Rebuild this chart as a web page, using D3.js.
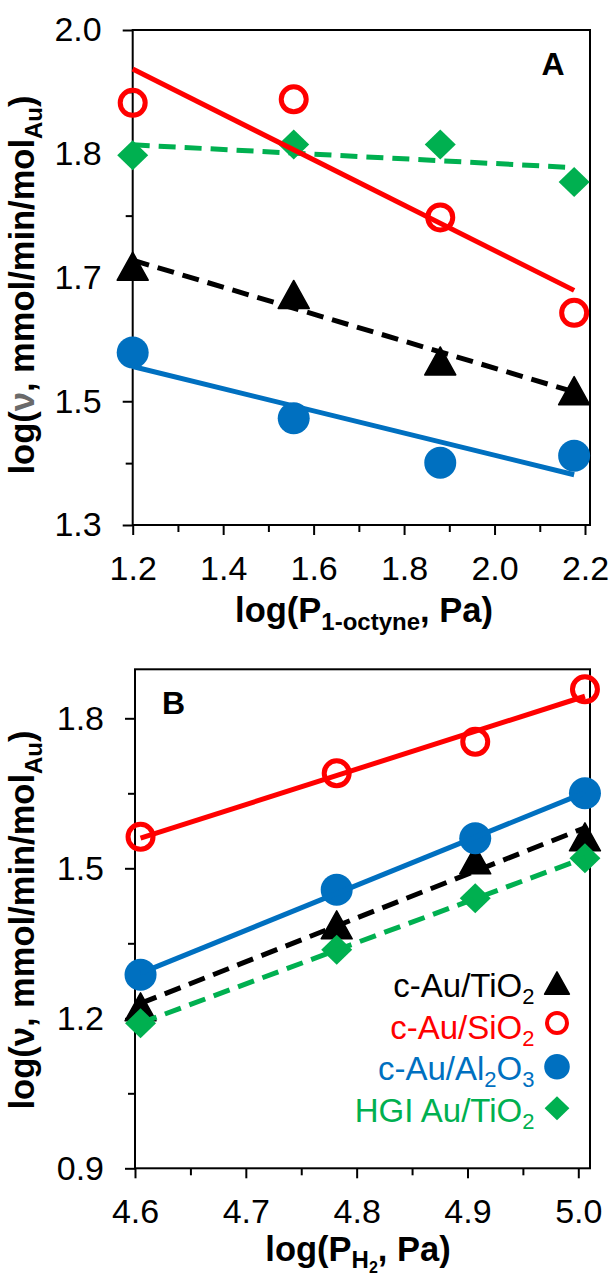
<!DOCTYPE html>
<html><head><meta charset="utf-8">
<script src="https://cdn.jsdelivr.net/npm/d3@7"></script>
<style>body{margin:0;background:#fff}svg{display:block}text{font-family:"Liberation Sans",Arial,sans-serif}</style>
</head><body><div id="chart"></div>
<script>
// ---------- Data ----------
const seriesNames = ["c-Au/TiO2", "c-Au/SiO2", "c-Au/Al2O3", "HGI Au/TiO2"];
// Panel A: log(P 1-octyne, Pa)
const xA = [1.20, 1.556, 1.880, 2.176];
const aTiO2  = [1.666, 1.626, 1.532, 1.490];
const aSiO2  = [1.897, 1.902, 1.735, 1.600];
const aAl2O3 = [1.544, 1.451, 1.388, 1.398];
const aHGI   = [1.823, 1.838, 1.838, 1.785];
// Panel B: log(P H2, Pa)
const xB = [4.605, 4.782, 4.907, 5.006];
const bTiO2  = [1.223, 1.387, 1.517, 1.563];
const bSiO2  = [1.563, 1.690, 1.753, 1.858];
const bAl2O3 = [1.287, 1.457, 1.560, 1.650];
const bHGI   = [1.190, 1.337, 1.440, 1.520];
// Ticks
const xTicksA = [1.2, 1.4, 1.6, 1.8, 2.0, 2.2];
const xTickLabelsA = ["1.2", "1.4", "1.6", "1.8", "2.0", "2.2"];
const xMinorA = [1.3, 1.5, 1.7, 1.9, 2.1];
const yTicksA = [1.3, 1.475, 1.65, 1.825, 2.0];
const yTickLabelsA = ["1.3", "1.5", "1.7", "1.8", "2.0"];
const yMinorA = [1.3875, 1.5625, 1.7375, 1.9125];
const xTicksB = [4.6, 4.7, 4.8, 4.9, 5.0];
const xTickLabelsB = ["4.6", "4.7", "4.8", "4.9", "5.0"];
const xMinorB = [4.65, 4.75, 4.85, 4.95];
const yTicksB = [0.9, 1.2, 1.5, 1.8];
const yTickLabelsB = ["0.9", "1.2", "1.5", "1.8"];
const yMinorB = [1.05, 1.35, 1.65];

// ---------- Styles ----------
const styles = [
  {color: "#000000", dash: "17,9", marker: "triangle"},
  {color: "#FF0000", dash: null,   marker: "ring"},
  {color: "#0070C0", dash: null,   marker: "dot"},
  {color: "#00B050", dash: "17,9", marker: "diamond"}
];
const legendParts = [
  [{t: "c-Au/TiO"}, {t: "2", sub: true}],
  [{t: "c-Au/SiO"}, {t: "2", sub: true}],
  [{t: "c-Au/Al"}, {t: "2", sub: true}, {t: "O"}, {t: "3", sub: true}],
  [{t: "HGI Au/TiO"}, {t: "2", sub: true}]
];

const W = 612, H = 1281;
const TICK_FS = 34, TITLE_FS = 34.5, LEG_FS = 33;
const svg = d3.select("#chart").append("svg").attr("width", W).attr("height", H);
svg.append("rect").attr("width", W).attr("height", H).attr("fill", "#fff");

function addParts(textSel, parts) {
  let cur = 0;
  parts.forEach(p => {
    const off = p.off || 0;
    const ts = textSel.append("tspan").attr("dy", off - cur).text(p.t);
    if (p.fs) ts.attr("font-size", p.fs);
    if (p.fill) ts.attr("fill", p.fill);
    cur = off;
  });
}

function drawMarker(g, type, cx, cy, color, k) {
  if (type === "ring") {
    g.append("circle").attr("cx", cx).attr("cy", cy).attr("r", 12.5 * k)
      .attr("fill", "none").attr("stroke", color).attr("stroke-width", 5 * k);
  } else if (type === "dot") {
    g.append("circle").attr("cx", cx).attr("cy", cy).attr("r", 16 * k).attr("fill", color);
  } else if (type === "triangle") {
    const w = 31 * k, h = 28 * k;
    g.append("path").attr("d", `M${cx},${cy - h / 2}L${cx + w / 2},${cy + h / 2}L${cx - w / 2},${cy + h / 2}Z`)
      .attr("fill", color).attr("stroke", color).attr("stroke-width", 1.5).attr("stroke-linejoin", "round");
  } else if (type === "diamond") {
    const w = 31 * k, h = 30 * k;
    g.append("path").attr("d", `M${cx},${cy - h / 2}L${cx + w / 2},${cy}L${cx},${cy + h / 2}L${cx - w / 2},${cy}Z`)
      .attr("fill", color);
  }
}

function linreg(xs, ys) {
  const n = xs.length, mx = d3.mean(xs), my = d3.mean(ys);
  let sxy = 0, sxx = 0;
  for (let i = 0; i < n; i++) { sxy += (xs[i] - mx) * (ys[i] - my); sxx += (xs[i] - mx) ** 2; }
  const m = sxy / sxx;
  return x => my + m * (x - mx);
}

function drawPanel(cfg) {
  const g = svg.append("g");
  const x = d3.scaleLinear().domain(cfg.xDomain).range(cfg.xRange);
  const y = d3.scaleLinear().domain(cfg.yDomain).range(cfg.yRange);
  const f = cfg.frame;

  const xAxis = g.append("g").attr("transform", `translate(0,${f.b})`)
    .call(d3.axisBottom(x).tickValues(cfg.xTicks).tickFormat((d, i) => cfg.xLabels[i]).tickSize(10).tickPadding(21).tickSizeOuter(0));
  const xMin = g.append("g").attr("transform", `translate(0,${f.b})`)
    .call(d3.axisBottom(x).tickValues(cfg.xMinor).tickFormat("").tickSize(7).tickSizeOuter(0));
  const yAxis = g.append("g").attr("transform", `translate(${f.l},0)`)
    .call(d3.axisLeft(y).tickValues(cfg.yTicks).tickFormat((d, i) => cfg.yLabels[i]).tickSize(10).tickPadding(21).tickSizeOuter(0));
  const yMin = g.append("g").attr("transform", `translate(${f.l},0)`)
    .call(d3.axisLeft(y).tickValues(cfg.yMinor).tickFormat("").tickSize(7).tickSizeOuter(0));
  [xAxis, xMin, yAxis, yMin].forEach(a => {
    a.select(".domain").remove();
    a.selectAll(".tick line").attr("stroke", "#000").attr("stroke-width", 2);
    a.selectAll(".tick text").attr("font-size", TICK_FS).attr("fill", "#000")
      .attr("font-family", '"Liberation Sans", Arial, sans-serif');
  });

  g.append("rect").attr("x", f.l).attr("y", f.t).attr("width", f.r - f.l).attr("height", f.b - f.t)
    .attr("fill", "none").attr("stroke", "#000").attr("stroke-width", 2);

  const mg = g.append("g");
  cfg.ys.forEach((ys, si) => {
    ys.forEach((v, i) => drawMarker(mg, styles[si].marker, x(cfg.x[i]), y(v), styles[si].color, 1));
  });

  const lg = g.append("g");
  [3, 0, 2, 1].forEach(si => {
    const fit = linreg(cfg.x, cfg.ys[si]);
    const x0 = cfg.x[0], x1 = cfg.x[cfg.x.length - 1];
    const ln = lg.append("line").attr("x1", x(x0)).attr("y1", y(fit(x0))).attr("x2", x(x1)).attr("y2", y(fit(x1)))
      .attr("stroke", styles[si].color).attr("stroke-width", 5);
    if (styles[si].dash) ln.attr("stroke-dasharray", styles[si].dash);
  });

  g.append("text").attr("x", cfg.letter[1]).attr("y", cfg.letter[2]).attr("text-anchor", "middle")
    .attr("font-size", 32).attr("font-weight", "bold").text(cfg.letter[0]);

  const xt = g.append("text").attr("x", cfg.xTitlePos[0]).attr("y", cfg.xTitlePos[1])
    .attr("text-anchor", "middle").attr("font-size", TITLE_FS).attr("font-weight", "bold");
  addParts(xt, cfg.xTitle);

  const yt = g.append("text").attr("transform", `translate(${cfg.yTitlePos[0]},${cfg.yTitlePos[1]}) rotate(-90)`)
    .attr("text-anchor", "middle").attr("font-size", TITLE_FS).attr("font-weight", "bold");
  addParts(yt, cfg.yTitle);
}

drawPanel({
  x: xA, ys: [aTiO2, aSiO2, aAl2O3, aHGI],
  xDomain: [1.2, 2.2], xRange: [132.7, 585], yDomain: [1.3, 2.0], yRange: [525, 30],
  frame: {l: 132.7, r: 590, t: 30, b: 525},
  xTicks: xTicksA, xLabels: xTickLabelsA, xMinor: xMinorA,
  yTicks: yTicksA, yLabels: yTickLabelsA, yMinor: yMinorA,
  letter: ["A", 553, 75],
  xTitlePos: [364, 622],
  xTitle: [{t: "log(P"}, {t: "1-octyne", fs: 24, off: 8}, {t: ", Pa)", off: 0}],
  yTitlePos: [34, 285],
  yTitle: [{t: "log("}, {t: "ν", fill: "#6a6a6a"}, {t: ", mmol/min/mol"}, {t: "Au", fs: 24, off: 8}, {t: ")", off: 0}]
});

drawPanel({
  x: xB, ys: [bTiO2, bSiO2, bAl2O3, bHGI],
  xDomain: [4.6, 5.0], xRange: [135, 578.3], yDomain: [0.9, 1.9], yRange: [1168.3, 668.3],
  frame: {l: 135, r: 590, t: 669.3, b: 1168.3},
  xTicks: xTicksB, xLabels: xTickLabelsB, xMinor: xMinorB,
  yTicks: yTicksB, yLabels: yTickLabelsB, yMinor: yMinorB,
  letter: ["B", 173.5, 714],
  xTitlePos: [358, 1261],
  xTitle: [{t: "log(P"}, {t: "H", fs: 24, off: 7}, {t: "2", fs: 16, off: 12}, {t: ", Pa)", off: 0}],
  yTitlePos: [34, 920],
  yTitle: [{t: "log(ν, mmol/min/mol"}, {t: "Au", fs: 24, off: 8}, {t: ")", off: 0}]
});

// ---------- Legend (panel B) ----------
const leg = svg.append("g");
const legTextY = [997, 1038.5, 1080, 1121.5];
const legMarkY = [983, 1023, 1066.7, 1108.3];
seriesNames.forEach((name, i) => {
  const t = leg.append("text").attr("x", 534.5).attr("y", legTextY[i]).attr("text-anchor", "end")
    .attr("font-size", LEG_FS).attr("fill", styles[i].color);
  addParts(t, legendParts[i].map(p => p.sub ? {t: p.t, fs: 22, off: 7} : {t: p.t, off: 0}));
  drawMarker(leg, styles[i].marker, 557, legMarkY[i], styles[i].color, 0.8);
});
</script>
</body></html>
